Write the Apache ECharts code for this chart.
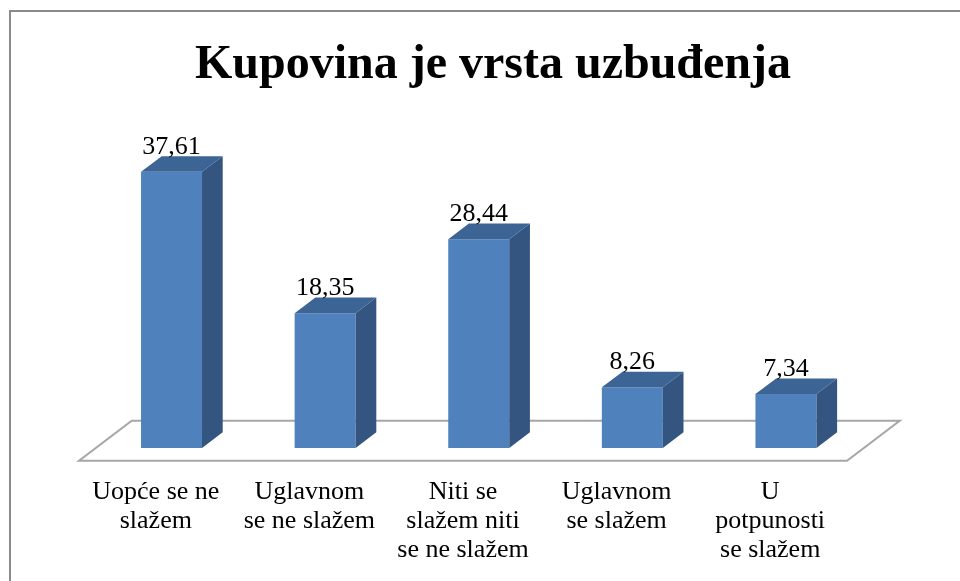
<!DOCTYPE html>
<html>
<head>
<meta charset="utf-8">
<script src="https://cdn.jsdelivr.net/npm/echarts@6/dist/echarts.min.js"></script>
<style>html,body{margin:0;padding:0;background:#fff}#c{width:960px;height:581px}</style>
</head>
<body>
<div id="c"></div>
<script>
const titleText = 'Kupovina je vrsta uzbuđenja';
const categories = ['Uopće se ne\nslažem', 'Uglavnom\nse ne slažem', 'Niti se\nslažem niti\nse ne slažem', 'Uglavnom\nse slažem', 'U\npotpunosti\nse slažem'];
const values = [37.61, 18.35, 28.44, 8.26, 7.34];

const FLOOR_DX = 52.7, FLOOR_DY = -40;
const BAR_FRONT = 0.3175, BAR_BACK = 0.71, BAR_W = 0.397;
const FONT = '"Liberation Serif", "Times New Roman", serif';

const chart = echarts.init(document.getElementById('c'), null, {renderer: 'canvas'});
chart.setOption({
  backgroundColor: '#fff',
  animation: false,
  title: {
    text: titleText, left: 488, top: 37, textAlign: 'center',
    textStyle: {fontFamily: FONT, fontSize: 48, fontWeight: 'bold', color: '#000'}
  },
  graphic: [{
    type: 'rect', shape: {x: 10, y: 11, width: 1000, height: 700},
    style: {fill: 'none', stroke: '#8a8a8a', lineWidth: 2}, silent: true
  }],
  grid: {left: 79, right: 113, top: 167, bottom: 120.3},
  xAxis: {
    type: 'category', data: categories,
    axisLine: {show: false}, axisTick: {show: false}, splitLine: {show: false},
    axisLabel: {interval: 0, fontFamily: FONT, fontSize: 26, lineHeight: 29, color: '#000', margin: 17}
  },
  yAxis: {type: 'value', min: 0, max: 40, show: false},
  series: [{
    type: 'custom', z: 1,
    data: [[0, 0]],
    renderItem: function (params, api) {
      const c = api.coord([0, 0]);
      const bw = api.size([1, 0])[0];
      const left = c[0] - bw / 2, right = left + bw * categories.length, y = c[1];
      return {
        type: 'polygon',
        shape: {points: [[left, y], [right, y], [right + FLOOR_DX, y + FLOOR_DY], [left + FLOOR_DX, y + FLOOR_DY]]},
        style: {fill: '#fff', stroke: '#a6a6a6', lineWidth: 2}
      };
    }
  }, {
    type: 'custom', z: 2,
    data: values.map((v, i) => [i, v]),
    encode: {x: 0, y: 1},
    renderItem: function (params, api) {
      const i = api.value(0), v = api.value(1);
      const p = api.coord([i, v]);
      const p0 = api.coord([i, 0]);
      const bw = api.size([1, 0])[0];
      const w = bw * BAR_W;
      const fx = FLOOR_DX * BAR_FRONT, fy = FLOOR_DY * BAR_FRONT;
      const ddx = FLOOR_DX * (BAR_BACK - BAR_FRONT), ddy = FLOOR_DY * (BAR_BACK - BAR_FRONT);
      const x0 = p[0] - w / 2 + fx - 1, x1 = x0 + w;
      const yTop = p[1] + fy, yBot = p0[1] + fy;
      return {
        type: 'group',
        children: [
          {type: 'rect', shape: {x: x0, y: yTop, width: w, height: yBot - yTop}, style: {fill: '#4f81bd'}},
          {type: 'polygon', shape: {points: [[x1, yTop], [x1 + ddx, yTop + ddy], [x1 + ddx, yBot + ddy], [x1, yBot]]}, style: {fill: '#34557f'}},
          {type: 'polygon', shape: {points: [[x0, yTop], [x0 + ddx, yTop + ddy], [x1 + ddx, yTop + ddy], [x1, yTop]]}, style: {fill: '#3c6494'}},
          {type: 'text', x: (x0 + x1) / 2, y: yTop + ddy + 4,
           style: {text: v.toFixed(2).replace('.', ','), font: '26px ' + FONT, fill: '#000', align: 'center', verticalAlign: 'bottom'}}
        ]
      };
    }
  }]
});
</script>
</body>
</html>
